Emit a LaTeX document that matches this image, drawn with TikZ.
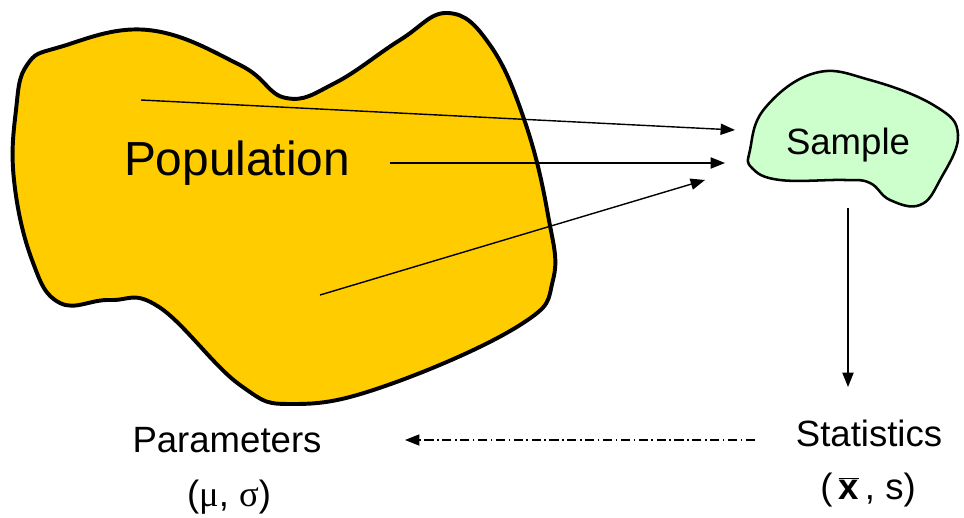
\documentclass[tikz,border=0pt]{standalone}
\usepackage{fontspec}
\setmainfont{Liberation Sans}
\newfontfamily\grk{Liberation Serif}
\usepackage{xcolor}
\usetikzlibrary{arrows.meta}
\definecolor{popfill}{HTML}{FFCC00}
\definecolor{smpfill}{HTML}{CCFFCC}

\begin{document}
\begin{tikzpicture}[x=0.025cm, y=-0.025cm,
    arr/.style={line width=1pt, -{Triangle[length=0.36cm, width=0.28cm]}},
    lbl/.style={font=\fontsize{26}{30}\selectfont, inner sep=0pt}]
    \useasboundingbox (0,0) rectangle (964,518);

    % Population blob
    \draw[fill=popfill, line width=2.8pt, line join=round]
        plot[smooth cycle, tension=0.7] coordinates {
        (60,47) (148,30) (240,65) (286,98) (335,83) (400,40) (448,13)
        (490,45) (525,122) (548,215) (553,280) (520,325) (388,385)
        (295,404) (240,385) (159,307) (110,300) (60,303) (32,260)
        (14,180) (16,110) (27,65)};
    \node[lbl, font=\fontsize{34}{40}\selectfont] (pop) at (237,163) {Population};

    % Sample blob
    \draw[fill=smpfill, line width=1.8pt, line join=round]
        plot[smooth cycle, tension=0.7] coordinates {
        (750,150) (765,108) (815,73) (870,80) (935,106) (958,135)
        (940,180) (920,205) (890,200) (870,183) (845,180) (780,180)
        (752,168)};
    \node[lbl] (smp) at (848,145) {Sample};

    % sampling arrows
    \coordinate (p1) at (141,100);  \coordinate (s1) at (735,130);
    \coordinate (p2) at (390,163);  \coordinate (s2) at (725,163);
    \coordinate (p3) at (320,295);  \coordinate (s3) at (705,180);
    \draw[arr] (p1) -- (s1);
    \draw[arr] (p2) -- (s2);
    \draw[arr] (p3) -- (s3);

    % statistics and parameters
    \node[lbl] (stat) at (869,433) {Statistics};
    \node[lbl] (statv) at (868,490) {(\,$\overline{\textbf{x}}$\,, s)};
    \node[lbl] (par) at (227,440) {Parameters};
    \node[lbl] (parv) at (229,497) {({\grk μ}, {\grk σ})};

    \coordinate (d1) at (848,208);  \coordinate (d2) at (848,387);
    \draw[arr] (d1) -- (d2);

    \coordinate (e1) at (755,440);  \coordinate (e2) at (405,440);
    \draw[arr, line width=0.8pt, dash pattern=on 6.5pt off 2.5pt on 1.2pt off 2.5pt] (e1) -- (e2);
\end{tikzpicture}
\end{document}
